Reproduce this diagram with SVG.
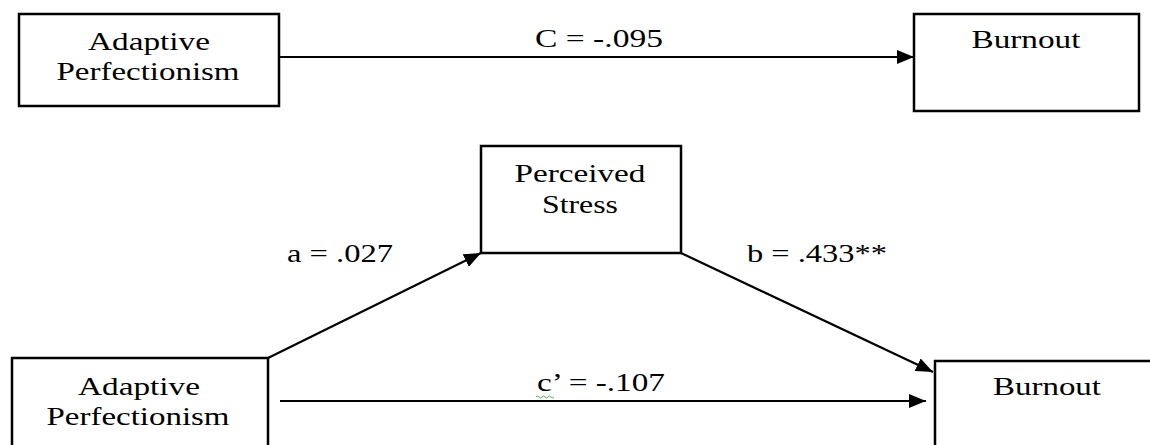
<svg xmlns="http://www.w3.org/2000/svg" width="1150" height="445" viewBox="0 0 1150 445">
<style>
.box{fill:#fff;stroke:#000;stroke-width:2.5}
.t{font-family:"Liberation Serif","Times New Roman",serif;font-size:26px;fill:#000;text-anchor:middle}
.c{stroke:#000;stroke-width:2.2;fill:none}
</style>
<defs>
<marker id="ah" markerUnits="userSpaceOnUse" markerWidth="18" markerHeight="14" refX="17" refY="7" orient="auto">
<path d="M0,0 L17,7 L0,14 z" fill="#000"/>
</marker>
</defs>
<rect width="1150" height="445" fill="#fff"/>
<g id="connectors">
<line class="c" x1="279" y1="57" x2="914" y2="57" marker-end="url(#ah)"/>
<line class="c" x1="268" y1="358" x2="481" y2="253" marker-end="url(#ah)"/>
<line class="c" x1="681" y1="253" x2="933" y2="372" marker-end="url(#ah)"/>
<line class="c" x1="280" y1="401" x2="926" y2="401" marker-end="url(#ah)"/>
<text class="t" x="599" y="47" textLength="128" lengthAdjust="spacingAndGlyphs">C = -.095</text>
<text class="t" x="340" y="262" textLength="106" lengthAdjust="spacingAndGlyphs">a = .027</text>
<text class="t" x="817" y="262" textLength="140" lengthAdjust="spacingAndGlyphs">b = .433**</text>
<text class="t" x="601" y="391" textLength="128" lengthAdjust="spacingAndGlyphs">c’ = -.107</text>
<path d="M536,397 q1.5,-2 3,0 t3,0 t3,0 t3,0 t3,0 t3,0" stroke="#4caf50" stroke-width="1" fill="none"/>
</g>
<g id="node-adaptive-top">
<rect class="box" x="19" y="14" width="260" height="92"/>
<text class="t" x="149" y="50" textLength="122" lengthAdjust="spacingAndGlyphs">Adaptive</text>
<text class="t" x="148" y="80" textLength="183" lengthAdjust="spacingAndGlyphs">Perfectionism</text>
</g>
<g id="node-burnout-top">
<rect class="box" x="914" y="14" width="225" height="97"/>
<text class="t" x="1026" y="48" textLength="109" lengthAdjust="spacingAndGlyphs">Burnout</text>
</g>
<g id="node-stress">
<rect class="box" x="481" y="146" width="200" height="107"/>
<text class="t" x="580" y="182" textLength="131" lengthAdjust="spacingAndGlyphs">Perceived</text>
<text class="t" x="580" y="213" textLength="76" lengthAdjust="spacingAndGlyphs">Stress</text>
</g>
<g id="node-adaptive-bottom">
<rect class="box" x="12" y="358" width="256" height="100"/>
<text class="t" x="139" y="395" textLength="122" lengthAdjust="spacingAndGlyphs">Adaptive</text>
<text class="t" x="138" y="425" textLength="183" lengthAdjust="spacingAndGlyphs">Perfectionism</text>
</g>
<g id="node-burnout-bottom">
<rect class="box" x="935" y="361" width="230" height="100"/>
<text class="t" x="1047" y="395" textLength="108" lengthAdjust="spacingAndGlyphs">Burnout</text>
</g>
</svg>
